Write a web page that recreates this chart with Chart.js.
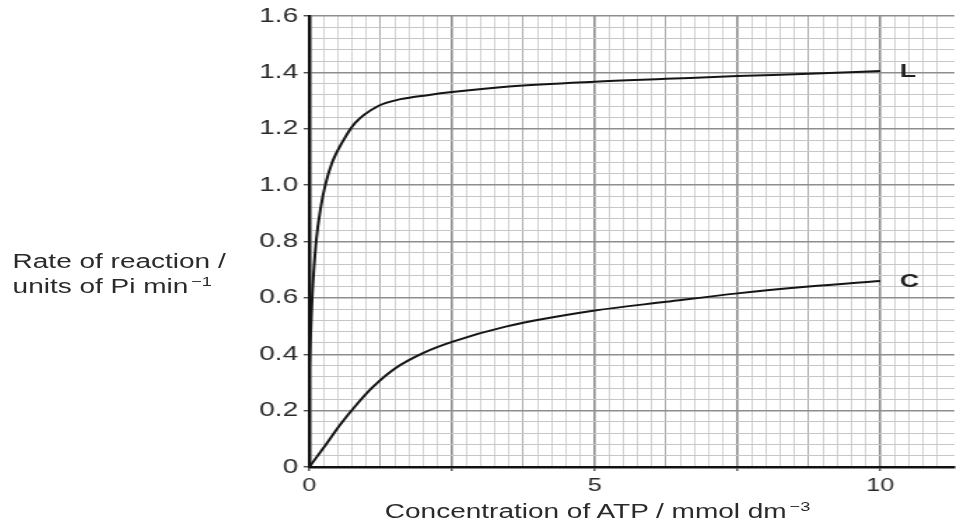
<!DOCTYPE html>
<html>
<head>
<meta charset="utf-8">
<script src="https://cdn.jsdelivr.net/npm/chart.js"></script>
<style>
    html, body { margin: 0; padding: 0; background: #fff; overflow: hidden; }
    /* le scan d'origine est étiré horizontalement : on dessine plus étroit puis on étire */
    #cadre {
        position: absolute; left: 0; top: 0;
        width: 686px; height: 531px;
        transform: scaleX(1.3994); transform-origin: 0 0;
        font-family: "Liberation Sans", Arial, sans-serif; color: #2a2a2a;
    }
    #cadre canvas { position: absolute; left: 0; top: 0; }
    .titre { position: absolute; font-size: 20px; line-height: 25px; white-space: nowrap; }
    .titre sup { font-size: 13px; line-height: 0; vertical-align: 7px; margin-left: 2px; }
    #titre-y { left: 9px; top: 249px; }
    #titre-x { left: 127px; top: 499px; width: 600px; text-align: center; }
</style>
</head>
<body>
<div id="cadre">
    <canvas id="vitesse-atp"></canvas>
    <div class="titre" id="titre-y">Rate of reaction /<br>units of Pi min<sup>−1</sup></div>
    <div class="titre" id="titre-x">Concentration of ATP / mmol dm<sup>−3</sup></div>
</div>
<script>
// Données
var atpL = [0, 0.05, 0.12, 0.2, 0.28, 0.4, 0.6, 0.8, 1.2, 1.6, 2.1, 2.5, 3.5, 5, 6.25, 7.5, 8.75, 10];
var rateL = [0.35, 0.6, 0.8, 0.92, 1.0, 1.08, 1.16, 1.22, 1.28, 1.305, 1.32, 1.33, 1.35, 1.367, 1.377, 1.387, 1.395, 1.405];
var atpC = [0, 0.25, 0.54, 0.83, 1.12, 1.52, 2.0, 2.5, 3.44, 5, 6.25, 7.5, 8.75, 10];
var rateC = [0, 0.068, 0.15, 0.222, 0.285, 0.352, 0.405, 0.444, 0.498, 0.555, 0.586, 0.616, 0.64, 0.66];
var xTickLabels = [0, 5, 10];
var yTickLabels = [0, 0.2, 0.4, 0.6, 0.8, 1.0, 1.2, 1.4, 1.6];
var curveNames = ['L', 'C'];

// Fonction pour assembler les points {x, y}
function toPoints(xs, ys) {
    return xs.map(function (x, i) {
        return { x: x, y: ys[i] };
    });
}

// Fonction pour savoir si une graduation porte une étiquette
function hasLabel(list, v) {
    return list.some(function (t) { return Math.abs(t - v) < 1e-6; });
}

// Plugin pour écrire L et C au bout des courbes
var curveLabels = {
    id: 'curveLabels',
    afterDatasetsDraw: function (chart) {
        var ctx = chart.ctx;
        chart.data.datasets.forEach(function (ds, i) {
            var pts = chart.getDatasetMeta(i).data;
            var last = pts[pts.length - 1];
            ctx.save();
            ctx.font = 'bold 19px "Liberation Sans", Arial, sans-serif';
            ctx.fillStyle = '#222';
            ctx.textBaseline = 'middle';
            ctx.fillText(ds.label, last.x + 14, last.y + 1);
            ctx.restore();
        });
    }
};

// Fonction pour configurer le graphique
function setupChart() {
    var ctx = document.getElementById('vitesse-atp');
    var ligne = {
        borderColor: '#151515',
        borderWidth: 2,
        pointRadius: 0,
        showLine: true,
        fill: false,
        cubicInterpolationMode: 'monotone'
    };

    new Chart(ctx, {
        type: 'scatter',
        data: {
            datasets: [
                Object.assign({ label: curveNames[0], data: toPoints(atpL, rateL) }, ligne),
                Object.assign({ label: curveNames[1], data: toPoints(atpC, rateC) }, ligne)
            ]
        },
        options: {
            responsive: true,
            maintainAspectRatio: false,
            animation: false,
            layout: { padding: { left: 0, right: 1, top: 16, bottom: 0 } },
            plugins: { legend: { display: false }, tooltip: { enabled: false } },
            scales: {
                x: {
                    type: 'linear',
                    min: 0,
                    max: 11.3,
                    afterFit: function (scale) { scale.height = 64; },
                    border: { color: '#111', width: 2.5 },
                    grid: {
                        color: function (c) {
                            var n = c.tick.value * 4;
                            if (Math.abs(n - Math.round(n)) > 1e-6) return 'rgba(0,0,0,0)';
                            n = Math.round(n);
                            if (n % 10 === 0) return '#8c8c8c';
                            if (n % 5 === 0) return '#ababab';
                            return '#d2d2d2';
                        },
                        lineWidth: function (c) {
                            var n = Math.round(c.tick.value * 4);
                            return n % 10 === 0 ? 1.6 : 1;
                        },
                        tickLength: 4,
                        tickWidth: 1.2,
                        tickColor: function (c) {
                            var n = c.tick.value * 4;
                            return Math.abs(n - Math.round(n)) < 1e-6 && Math.round(n) % 10 === 0 ? '#333' : 'rgba(0,0,0,0)';
                        }
                    },
                    ticks: {
                        stepSize: 0.25,
                        maxTicksLimit: 1000,
                        autoSkip: false,
                        maxRotation: 0,
                        padding: 4,
                        color: '#2a2a2a',
                        font: { family: '"Liberation Sans", Arial, sans-serif', size: 18 },
                        callback: function (v) {
                            return hasLabel(xTickLabels, v) ? String(Math.round(v)) : '';
                        }
                    }
                },
                y: {
                    type: 'linear',
                    min: 0,
                    max: 1.6,
                    afterFit: function (scale) { scale.width = 221; },
                    border: { color: '#111', width: 2.5 },
                    grid: {
                        color: function (c) {
                            var n = Math.round(c.tick.value * 25);
                            return n % 5 === 0 ? '#8e8e8e' : '#c6c6c6';
                        },
                        lineWidth: function (c) {
                            var n = Math.round(c.tick.value * 25);
                            return n % 5 === 0 ? 1.5 : 1;
                        },
                        tickLength: 4,
                        tickWidth: 1.2,
                        tickColor: function (c) {
                            return hasLabel(yTickLabels, c.tick.value) ? '#333' : 'rgba(0,0,0,0)';
                        }
                    },
                    ticks: {
                        stepSize: 0.04,
                        maxTicksLimit: 1000,
                        autoSkip: false,
                        padding: 4,
                        color: '#2a2a2a',
                        font: { family: '"Liberation Sans", Arial, sans-serif', size: 20 },
                        callback: function (v) {
                            if (!hasLabel(yTickLabels, v)) return '';
                            return v === 0 ? '0' : v.toFixed(1);
                        }
                    }
                }
            }
        },
        plugins: [curveLabels]
    });
}

setupChart();
</script>
</body>
</html>
